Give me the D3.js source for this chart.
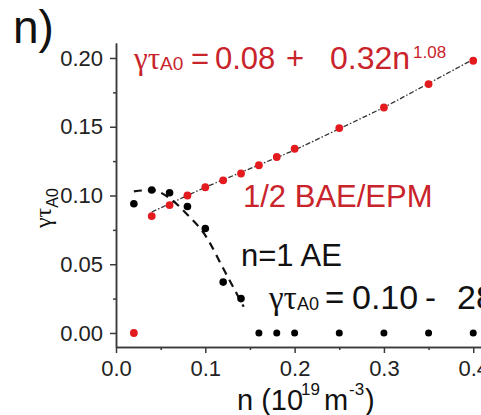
<!DOCTYPE html>
<html>
<head>
<meta charset="utf-8">
<script src="https://cdn.jsdelivr.net/npm/d3@7"></script>
<style>
  html, body { margin: 0; padding: 0; background: #fff; }
  svg { display: block; font-family: "Liberation Sans", Arial, sans-serif; }
</style>
</head>
<body>
<svg id="chart" width="481" height="415"></svg>
<script>
// density n (10^19 m^-3), same grid for both modes
const density = [0.02, 0.04, 0.06, 0.08, 0.10, 0.12, 0.14, 0.16, 0.18, 0.20, 0.25, 0.30, 0.35, 0.40];
// 1/2 BAE/EPM growth rate (red)
const gammaBae = [0.000, 0.085, 0.093, 0.100, 0.106, 0.111, 0.116, 0.122, 0.128, 0.134, 0.149, 0.164, 0.181, 0.198];
// n=1 AE growth rate (black)
const gammaAe = [0.094, 0.104, 0.102, 0.092, 0.076, 0.037, 0.025, 0, 0, 0, 0, 0, 0, 0];

// fit curves
const baeFitN = [0.04, 0.10, 0.20, 0.30, 0.40];
const baeFitG = [0.088, 0.106, 0.133, 0.164, 0.199];
const aeFitN = [0.02, 0.04, 0.06, 0.08, 0.10, 0.12, 0.143];
const aeFitG = [0.103, 0.104, 0.098, 0.086, 0.071, 0.047, 0.019];

const xMajor = [0, 0.1, 0.2, 0.3, 0.4];
const xMinor = [0.05, 0.15, 0.25, 0.35];
const yMajor = [0, 0.05, 0.10, 0.15, 0.20];
const yMinor = [0.025, 0.075, 0.125, 0.175];

const RED = '#e31b1e', RED_TXT = '#c9232b', AXIS = '#3a3a3a';

const svg = d3.select('#chart');
const x = d3.scaleLinear().domain([0, 0.4087]).range([116, 481]);
const y = d3.scaleLinear().domain([-0.0102, 0.2109]).range([347, 43]);

// axes
const styleAxis = (g) => {
  g.selectAll('path, line').attr('stroke', AXIS).attr('stroke-width', 1.5);
  g.selectAll('text').attr('fill', '#222').attr('font-size', 22);
};
svg.append('g').attr('transform', `translate(0,${y.range()[0]})`)
  .call(d3.axisBottom(x).tickValues(xMajor).tickFormat(d3.format('.1f')).tickSize(6).tickSizeOuter(0).tickPadding(7))
  .call(styleAxis);
svg.append('g').attr('transform', `translate(0,${y.range()[0]})`)
  .call(d3.axisBottom(x).tickValues(xMinor).tickFormat('').tickSize(3).tickSizeOuter(0))
  .call(styleAxis);
svg.append('g').attr('transform', `translate(${x.range()[0]},0)`)
  .call(d3.axisLeft(y).tickValues(yMajor).tickFormat(d3.format('.2f')).tickSize(6).tickSizeOuter(0).tickPadding(7))
  .call(styleAxis);
svg.append('g').attr('transform', `translate(${x.range()[0]},0)`)
  .call(d3.axisLeft(y).tickValues(yMinor).tickFormat('').tickSize(3).tickSizeOuter(0))
  .call(styleAxis);

// fit lines
const line = d3.line().x((d) => x(d[0])).y((d) => y(d[1]));
svg.append('path').datum(d3.zip(baeFitN, baeFitG)).attr('d', line)
  .attr('fill', 'none').attr('stroke', '#333').attr('stroke-width', 1.3).attr('stroke-dasharray', '5 2 1.5 2');
svg.append('path').datum(d3.zip(aeFitN, aeFitG)).attr('d', line.curve(d3.curveMonotoneX))
  .attr('fill', 'none').attr('stroke', '#111').attr('stroke-width', 2.2).attr('stroke-dasharray', '8 6');

// points
svg.append('g').selectAll('circle').data(d3.zip(density, gammaAe)).join('circle')
  .attr('cx', (d) => x(d[0])).attr('cy', (d) => y(d[1])).attr('r', (d) => d[1] === 0 ? 3.5 : 3.8).attr('fill', '#000');
svg.append('g').selectAll('circle').data(d3.zip(density, gammaBae)).join('circle')
  .attr('cx', (d) => x(d[0])).attr('cy', (d) => y(d[1])).attr('r', 3.9).attr('fill', RED);

// texts
const SERIF = '"Liberation Serif", "Times New Roman", serif';
svg.append('text').attr('x', 13).attr('y', 43).attr('font-size', 46).attr('fill', '#111').text('n)');

function formula(base, color, parts) {
  const t = svg.append('text').attr('fill', color).attr('y', base);
  parts.forEach((p) => {
    t.append('tspan').attr('x', p.x).attr('y', base + (p.dy || 0))
      .attr('font-size', p.size).attr('font-family', p.serif ? SERIF : null).text(p.s);
  });
  return t;
}
formula(69, RED_TXT, [
  { x: 134, s: 'γτ', size: 31, serif: true },
  { x: 160, s: 'A0', size: 19, dy: 1 },
  { x: 191, s: '=', size: 31 },
  { x: 215, s: '0.08', size: 31 },
  { x: 286, s: '+', size: 31 },
  { x: 330, s: '0.32n', size: 32 },
  { x: 413, s: '1.08', size: 17, dy: -11 },
]);
formula(309, '#111', [
  { x: 269, s: 'γτ', size: 33, serif: true },
  { x: 297, s: 'A0', size: 18, dy: 1 },
  { x: 325, s: '=', size: 33 },
  { x: 352, s: '0.10', size: 34 },
  { x: 425, s: '-', size: 33 },
  { x: 457, s: '28', size: 34 },
]);
svg.append('text').attr('x', 243).attr('y', 207).attr('font-size', 31).attr('fill', RED_TXT).text('1/2 BAE/EPM');
svg.append('text').attr('x', 241).attr('y', 266).attr('font-size', 31).attr('fill', '#111').text('n=1 AE');

// x axis title
formula(410, '#111', [
  { x: 237, s: 'n (10', size: 29 },
  { x: 301, s: '19', size: 17, dy: -15 },
  { x: 324, s: 'm', size: 29 },
  { x: 349, s: '-3', size: 17, dy: -15 },
  { x: 365, s: ')', size: 29 },
]);

// y axis title
const yt = svg.append('text').attr('transform', 'translate(51,228) rotate(-90)').attr('fill', '#111');
yt.append('tspan').attr('font-size', 24).attr('font-family', SERIF).text('γτ');
yt.append('tspan').attr('font-size', 16).attr('dy', 7).text('A0');
</script>
</body>
</html>
